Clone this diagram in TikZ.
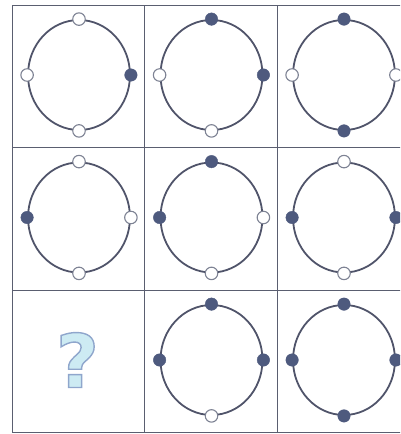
\documentclass[tikz,border=0pt]{standalone}
\usepackage{fontspec}
\usepackage{tikz}
\usetikzlibrary{shapes.geometric}

\newfontfamily\qfont{DejaVu Sans}

\definecolor{ringcol}{HTML}{50546A}
\definecolor{dotcol}{HTML}{4E5A7E}
\definecolor{offcol}{HTML}{7E8394}
\definecolor{gridcol}{HTML}{5A5E70}
\definecolor{qfill}{HTML}{CDEBF3}

% outlined glyphs (fill + stroke)
\newcommand{\outlined}[1]{\special{pdf:code 2 Tr 1.4 w 0.56 0.65 0.80 RG}#1\special{pdf:code 0 Tr}}

\begin{document}
\begin{tikzpicture}[x=1pt, y=-1pt,
        ring/.style={ellipse, draw=ringcol, line width=1.8pt, minimum width=102pt, minimum height=110pt, inner sep=0pt},
        ondot/.style={circle, fill=dotcol, draw=dotcol, minimum size=12.5pt, inner sep=0pt},
        offdot/.style={circle, fill=white, draw=offcol, line width=1.1pt, minimum size=12.5pt, inner sep=0pt},
        gridline/.style={draw=gridcol, line width=1pt},
    ]
        \clip (0,0) rectangle (400,434);

        % Grid
        \draw[gridline] (12,5) rectangle (410,432.5);
        \draw[gridline] (12,147.5) -- (410,147.5);
        \draw[gridline] (12,290) -- (410,290);
        \draw[gridline] (144.5,5) -- (144.5,432.5);
        \draw[gridline] (277,5) -- (277,432.5);

        % Rings: row/col/top/left/right/bottom
        \foreach \r/\c/\tp/\lf/\rt/\bt in {
            1/1/offdot/offdot/ondot/offdot,
            1/2/ondot/offdot/ondot/offdot,
            1/3/ondot/offdot/offdot/ondot,
            2/1/offdot/ondot/offdot/offdot,
            2/2/ondot/ondot/offdot/offdot,
            2/3/offdot/ondot/ondot/offdot,
            3/2/ondot/ondot/ondot/offdot,
            3/3/ondot/ondot/ondot/ondot} {
            \node[ring] (ring\r\c) at ({79+(\c-1)*132.5}, {75+(\r-1)*142.5}) {};
            \node[\tp] (ring\r\c-t) at (ring\r\c.north) {};
            \node[\lf] (ring\r\c-l) at (ring\r\c.west) {};
            \node[\rt] (ring\r\c-r) at (ring\r\c.east) {};
            \node[\bt] (ring\r\c-b) at (ring\r\c.south) {};
        }

        % Missing cell
        \node[text=qfill, font=\fontsize{74}{74}\selectfont\qfont\bfseries] (qmark) at (77.5,360) {\outlined{?}};

    \end{tikzpicture}
\end{document}
